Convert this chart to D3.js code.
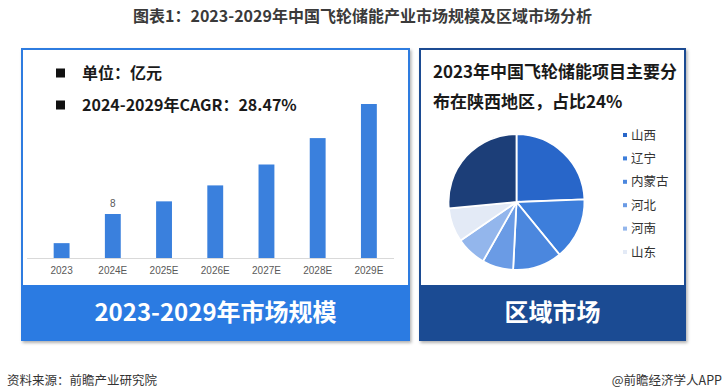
<!DOCTYPE html>
<html><head><meta charset="utf-8">
<script src="https://cdn.jsdelivr.net/npm/d3@7"></script>
<style>
html,body{margin:0;padding:0;background:#fff;}
svg{display:block;font-family:"Noto Sans CJK SC","Noto Sans",sans-serif;}
</style></head>
<body>
<svg id="c" width="725" height="392"></svg>
<script>
const years = ["2023","2024E","2025E","2026E","2027E","2028E","2029E"];
const marketSize = [2.7, 8, 10.3, 13.2, 17.0, 21.8, 28.0];
const labeledYear = "2024E";
const regions = ["山西","辽宁","内蒙古","河北","河南","山东","其他"];
const regionShare = [24.4, 14.7, 11.7, 7.4, 7.2, 8.1, 26.5];
const regionColors = ["#2866c9","#3d7edb","#4b87de","#6a9be5","#93b6ec","#e3eaf6","#1c3e78"];
const legendRegions = ["山西","辽宁","内蒙古","河北","河南","山东"];

const svg = d3.select("#c");
const defs = svg.append("defs");
const f = defs.append("filter").attr("id","sh").attr("x","-5%").attr("y","-5%").attr("width","115%").attr("height","115%");
f.append("feDropShadow").attr("dx",1.5).attr("dy",2).attr("stdDeviation",1.5).attr("flood-color","#000").attr("flood-opacity",0.3);

// Title
svg.append("text").attr("x",362.5).attr("y",22).attr("text-anchor","middle")
  .attr("font-size",16).attr("font-weight","bold").attr("fill","#3a3a3a")
  .text("图表1：2023-2029年中国飞轮储能产业市场规模及区域市场分析");

// Left panel
const L = {x:22,y:49,w:387,h:291,band:285};
svg.append("rect").attr("x",L.x).attr("y",L.y).attr("width",L.w).attr("height",L.h)
  .attr("fill","#fff").attr("stroke","#2f7be0").attr("stroke-width",2).attr("filter","url(#sh)");
svg.append("rect").attr("x",L.x-1).attr("y",L.band).attr("width",L.w+2).attr("height",L.y+L.h-L.band+1)
  .attr("fill","#2b7be2");
svg.append("text").attr("x",L.x+L.w/2).attr("y",321).attr("text-anchor","middle")
  .attr("font-size",24).attr("font-weight","bold").attr("fill","#fff")
  .text("2023-2029年市场规模");

// Notes
const notes = ["单位：亿元","2024-2029年CAGR：28.47%"];
notes.forEach((t,i)=>{
  const cy = 73 + i*32;
  svg.append("rect").attr("x",56).attr("y",cy-4.5).attr("width",9).attr("height",9).attr("fill","#111");
  svg.append("text").attr("x",82).attr("y",cy+5.5).attr("font-size",16).attr("font-weight","bold")
    .attr("fill","#1a1a1a").text(t);
});

// Bar chart
const x = d3.scaleBand().domain(years).range([36,394.5]).paddingInner(0.69).paddingOuter(0.345);
const y = d3.scaleLinear().domain([0,30]).range([258,93]);
const g = svg.append("g");
g.selectAll("rect.bar").data(years).enter().append("rect").attr("class","bar")
  .attr("x",d=>x(d)).attr("width",x.bandwidth())
  .attr("y",(d,i)=>y(marketSize[i])).attr("height",(d,i)=>y(0)-y(marketSize[i]))
  .attr("fill","#3a80dd");
const ax = svg.append("g").attr("transform","translate(0,258)")
  .call(d3.axisBottom(x).tickSize(0).tickPadding(9));
ax.select(".domain").remove();
ax.selectAll("text").attr("font-family","'Liberation Sans',sans-serif").attr("font-size",10).attr("fill","#595959");
svg.append("line").attr("x1",27).attr("x2",394).attr("y1",258.5).attr("y2",258.5).attr("stroke","#d9d9d9").attr("stroke-width",1);
const li = years.indexOf(labeledYear);
svg.append("text").attr("x",x(labeledYear)+x.bandwidth()/2).attr("y",y(marketSize[li])-7)
  .attr("text-anchor","middle").attr("font-family","'Liberation Sans',sans-serif")
  .attr("font-size",10).attr("fill","#595959").text(marketSize[li]);

// Right panel
const R = {x:420,y:49,w:265,h:291,band:285};
svg.append("rect").attr("x",R.x).attr("y",R.y).attr("width",R.w).attr("height",R.h)
  .attr("fill","#fff").attr("stroke","#1f4c92").attr("stroke-width",2).attr("filter","url(#sh)");
svg.append("rect").attr("x",R.x-1).attr("y",R.band).attr("width",R.w+2).attr("height",R.y+R.h-R.band+1)
  .attr("fill","#1b4b93");
svg.append("text").attr("x",R.x+R.w/2).attr("y",321).attr("text-anchor","middle")
  .attr("font-size",24).attr("font-weight","bold").attr("fill","#fff").text("区域市场");

const rt = ["2023年中国飞轮储能项目主要分","布在陕西地区，占比24%"];
rt.forEach((t,i)=>{
  svg.append("text").attr("x",433).attr("y",78+i*30).attr("font-size",17).attr("font-weight","bold")
    .attr("fill","#1a1a1a").text(t);
});

// Pie
const pie = d3.pie().sort(null).value(d=>d);
const arc = d3.arc().innerRadius(0).outerRadius(68);
const pg = svg.append("g").attr("transform","translate(516.5,202)");
pg.selectAll("path").data(pie(regionShare)).enter().append("path")
  .attr("d",arc).attr("fill",(d,i)=>regionColors[i]).attr("stroke","#fff").attr("stroke-width",1.8);

// Legend
legendRegions.forEach((r,i)=>{
  const cy = 135 + i*23.4;
  const ci = regions.indexOf(r);
  svg.append("rect").attr("x",623).attr("y",cy-2).attr("width",4).attr("height",4).attr("fill",regionColors[ci]);
  svg.append("text").attr("x",631).attr("y",cy+4.5).attr("font-size",12.5).attr("fill","#333").text(r);
});

// Footer
svg.append("text").attr("x",7).attr("y",385).attr("font-size",12.5).attr("fill","#333").text("资料来源：前瞻产业研究院");
svg.append("text").attr("x",722).attr("y",385).attr("text-anchor","end").attr("font-size",12.5).attr("fill","#333").text("@前瞻经济学人APP");
</script>
</body></html>
